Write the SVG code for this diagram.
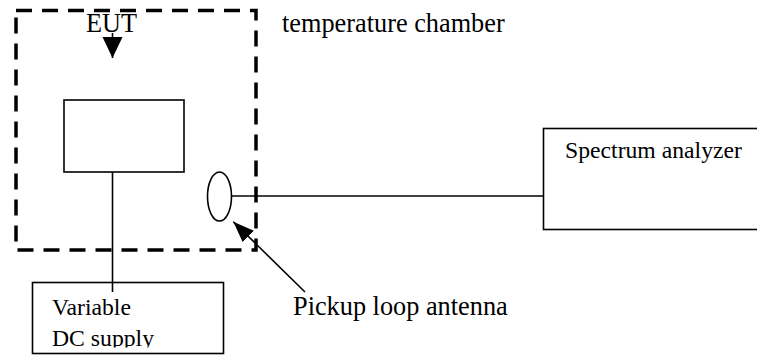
<svg xmlns="http://www.w3.org/2000/svg" width="757" height="355" viewBox="0 0 757 355">
<style>
.box{fill:#fff;stroke:#000;stroke-width:1.6}
.ln{fill:none;stroke:#000;stroke-width:1.6}
.lbl{font-family:"Liberation Serif","Times New Roman",serif;font-size:26.3px;fill:#000}
.in{font-family:"Liberation Serif","Times New Roman",serif;font-size:23.7px;fill:#000}
</style>
<defs>
<marker id="ahEUT" markerUnits="userSpaceOnUse" markerWidth="22" markerHeight="22" refX="21" refY="10" orient="auto" viewBox="0 0 22 20">
<path d="M0,0 L21,10 L0,20 Z" fill="#000"/>
</marker>
<marker id="ahLoop" markerUnits="userSpaceOnUse" markerWidth="22" markerHeight="18" refX="21" refY="8" orient="auto" viewBox="0 0 22 16">
<path d="M0,0 L21,8 L0,16 Z" fill="#000"/>
</marker>
<clipPath id="clipDC"><rect x="32" y="283" width="192" height="64.5"/></clipPath>
</defs>
<rect width="757" height="355" fill="#fff"/>
<g id="chamber">
<rect x="16" y="10.5" width="240" height="239.5" fill="none" stroke="#000" stroke-width="3.5" stroke-dasharray="16 10"/>
<text class="lbl" x="282" y="32">temperature chamber</text>
</g>
<g id="eut-label">
<text class="lbl" x="86" y="32">EUT</text>
</g>
<g id="eut">
<rect class="box" x="64" y="100" width="120" height="72"/>
</g>
<g id="supply">
<rect class="box" x="32.5" y="282.5" width="191" height="71"/>
<text class="in" x="52" y="315">Variable</text>
<text class="in" x="52" y="346" clip-path="url(#clipDC)">DC supply</text>
</g>
<g id="loop">
<ellipse cx="219.5" cy="196.5" rx="12" ry="24.5" fill="#fff" stroke="#000" stroke-width="1.6"/>
</g>
<g id="analyzer">
<rect class="box" x="543.5" y="128.5" width="230" height="101"/>
<text class="in" x="565" y="158">Spectrum analyzer</text>
</g>
<g id="loop-label">
<text class="lbl" x="293" y="315">Pickup loop antenna</text>
</g>
<g id="connectors">
<line class="ln" x1="112.5" y1="172" x2="112.5" y2="292"/>
<line class="ln" x1="231.5" y1="196" x2="543.5" y2="196"/>
<line class="ln" x1="112.5" y1="33" x2="112.5" y2="58" marker-end="url(#ahEUT)"/>
<line class="ln" x1="305" y1="292" x2="233.3" y2="221.7" marker-end="url(#ahLoop)"/>
</g>
</svg>
